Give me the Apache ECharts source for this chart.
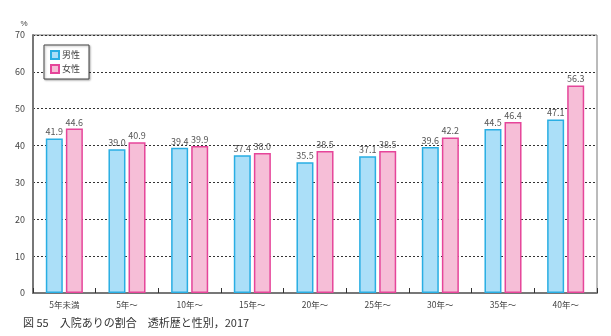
<!DOCTYPE html>
<html><head><meta charset="utf-8">
<script src="https://cdn.jsdelivr.net/npm/echarts@6/dist/echarts.min.js"></script>
<style>html,body{margin:0;padding:0;background:#fff}#c{width:611px;height:336px}</style>
</head><body><div id="c"></div>
<script>
const categories = ['5年未満','5年～','10年～','15年～','20年～','25年～','30年～','35年～','40年～'];
const male = [41.9, 39.0, 39.4, 37.4, 35.5, 37.1, 39.6, 44.5, 47.1];
const female = [44.6, 40.9, 39.9, 38.0, 38.5, 38.5, 42.2, 46.4, 56.3];
const seriesNames = ['男性','女性'];
const yTicks = [0,10,20,30,40,50,60,70];
const caption = '図 55　入院ありの割合　透析歴と性別，2017';

const font = '"Noto Sans CJK JP", "Noto Sans", sans-serif';
const chart = echarts.init(document.getElementById('c'));
const lbl = {show:true, position:'top', distance:2, fontSize:9, color:'#555', fontFamily:font, formatter: p => p.value.toFixed(1)};
chart.setOption({
  animation:false,
  title:{text:caption, left:18, top:312, textStyle:{fontSize:11, fontWeight:'normal', color:'#333', fontFamily:font}},
  legend:{
    data:seriesNames, orient:'vertical', left:44, top:45, itemWidth:8, itemHeight:8, itemGap:4,
    padding:[5,9,5,6], borderColor:'#444', borderWidth:1, backgroundColor:'#fff',
    shadowColor:'rgba(0,0,0,0.3)', shadowBlur:2, shadowOffsetX:1, shadowOffsetY:1,
    textStyle:{fontSize:9, lineHeight:10, color:'#444', fontFamily:font, padding:[0,0,0,-2]}, icon:'rect'
  },
  grid:{left:33, right:14, top:35, bottom:43, show:true, borderColor:'#777', borderWidth:1},
  xAxis:{
    type:'category', data:categories,
    axisLine:{lineStyle:{color:'#777', width:2}},
    axisTick:{show:true, inside:true, length:5, lineStyle:{color:'#333', width:1}},
    axisLabel:{fontSize:8.5, color:'#444', fontFamily:font, margin:8}
  },
  yAxis:{
    type:'value', min:0, max:70, interval:10,
    name:'%', nameLocation:'end', nameGap:7, nameTextStyle:{fontSize:8, color:'#444', padding:[0,18,0,0]},
    axisLine:{show:true, lineStyle:{color:'#777', width:2}},
    axisTick:{show:false},
    axisLabel:{fontSize:9, color:'#444', fontFamily:font, margin:8},
    splitLine:{lineStyle:{color:'#333', type:[2,2], width:1}}
  },
  series:[
    {name:seriesNames[0], type:'bar', data:male, barWidth:17, barGap:'18%',
      itemStyle:{color:'#abdff8', borderColor:'#29aee3', borderWidth:1.5}, label:lbl},
    {name:seriesNames[1], type:'bar', data:female, barWidth:17,
      itemStyle:{color:'#f6bed7', borderColor:'#e6459a', borderWidth:1.5}, label:lbl}
  ]
});
</script></body></html>
